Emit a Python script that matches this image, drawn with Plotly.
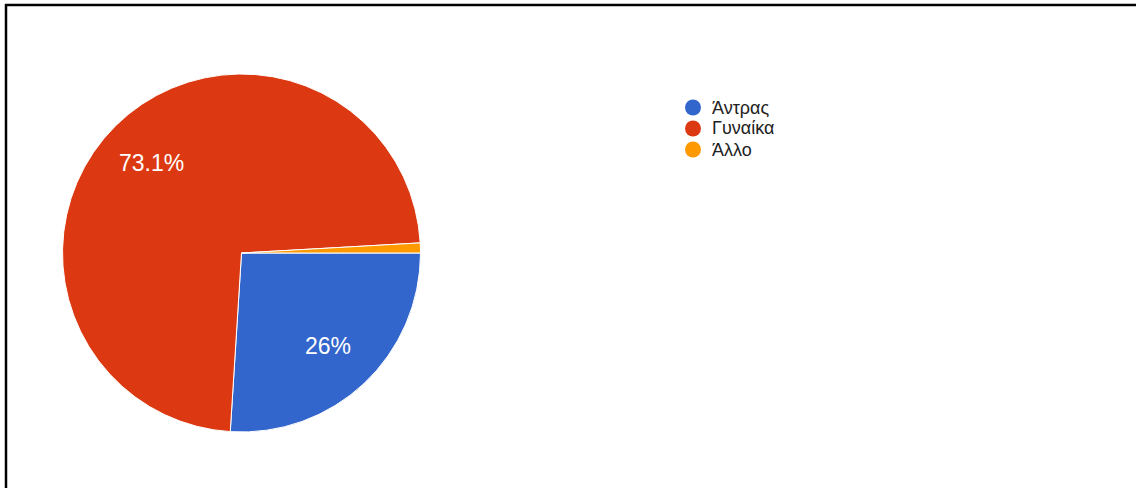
import math
import plotly.graph_objects as go

# Gender breakdown of respondents (percent of answers)
labels = ["Άντρας", "Γυναίκα", "Άλλο"]
shares = [26.0, 73.1, 0.9]
slice_text = ["26%", "73.1%", ""]
colors = ["#3366CC", "#DC3912", "#FF9900"]

W, H = 1136, 488
FONT = "Liberation Sans, Arial"

# pie geometry in pixels
cx, cy, R = 241.5, 253.0, 179.0
start_deg = 0.0          # first slice starts at 3 o'clock, clockwise
label_radius = 0.71

fig = go.Figure()

fig.add_trace(go.Pie(
    labels=labels,
    values=shares,
    textinfo="none",
    marker=dict(colors=colors, line=dict(color="white", width=1)),
    sort=False,
    direction="clockwise",
    rotation=90,
    showlegend=False,
    hoverinfo="label+percent",
    domain=dict(x=[(cx - R) / W, (cx + R) / W], y=[(H - cy - R) / H, (H - cy + R) / H]),
))

annotations = []
shapes = []

# slice labels placed on each slice's middle angle
total = sum(shares)
acc = 0.0
for val, txt in zip(shares, slice_text):
    mid = start_deg + (acc + val / 2) / total * 360.0
    acc += val
    if not txt:
        continue
    a = math.radians(mid)
    px = cx + label_radius * R * math.cos(a)
    py = cy + label_radius * R * math.sin(a)
    annotations.append(dict(
        x=px / W, y=1 - py / H, xref="paper", yref="paper",
        text=txt, showarrow=False, xanchor="center", yanchor="middle",
        font=dict(family=FONT, size=23, color="white"),
    ))

# legend with round keys
leg_x, leg_y0, leg_dy, dot_r = 693.0, 107.5, 21.0, 8.0
for i, (name, col) in enumerate(zip(labels, colors)):
    y = leg_y0 + i * leg_dy
    shapes.append(dict(
        type="circle", xref="paper", yref="paper",
        x0=(leg_x - dot_r) / W, x1=(leg_x + dot_r) / W,
        y0=1 - (y + dot_r) / H, y1=1 - (y - dot_r) / H,
        fillcolor=col, line=dict(width=0),
    ))
    annotations.append(dict(
        x=(leg_x + 17) / W, y=1 - y / H, xref="paper", yref="paper",
        text=name, showarrow=False, xanchor="left", yanchor="middle",
        font=dict(family=FONT, size=18, color="#222222"),
    ))

# frame lines along the top and left edges
shapes += [
    dict(type="line", xref="paper", yref="paper",
         x0=5 / W, x1=1, y0=1 - 5 / H, y1=1 - 5 / H,
         line=dict(color="black", width=2.5)),
    dict(type="line", xref="paper", yref="paper",
         x0=6 / W, x1=6 / W, y0=0, y1=1 - 4 / H,
         line=dict(color="black", width=2.5)),
]

fig.update_layout(
    width=W, height=H,
    margin=dict(l=0, r=0, t=0, b=0),
    paper_bgcolor="white",
    plot_bgcolor="white",
    annotations=annotations,
    shapes=shapes,
)

fig.write_html("out.html")
